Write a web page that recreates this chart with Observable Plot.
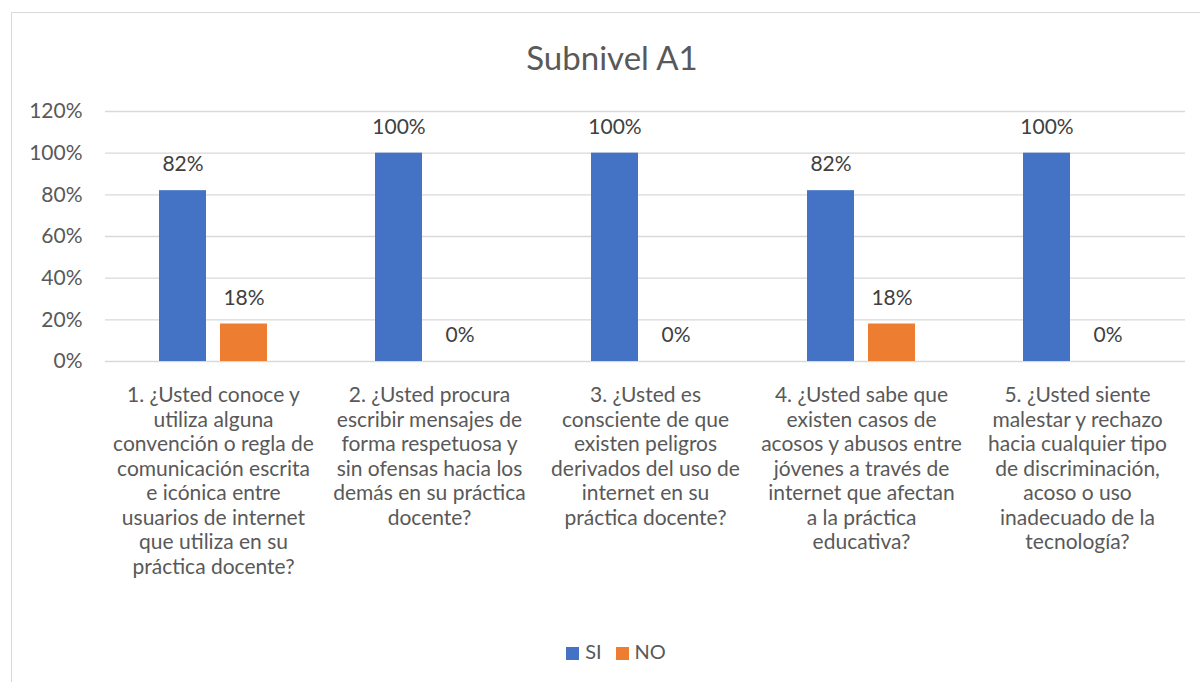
<!DOCTYPE html>
<html>
<head>
<meta charset="utf-8">
<script src="https://cdn.jsdelivr.net/npm/d3@7"></script>
<script src="https://cdn.jsdelivr.net/npm/@observablehq/plot@0.6"></script>
<style>
  html, body { margin: 0; padding: 0; background: #fff; }
  #wrap { position: relative; width: 1200px; height: 682px; overflow: hidden; font-family: Lato, "Open Sans", sans-serif; }
  #frame { position: absolute; left: 11px; top: 12px; width: 1240px; height: 720px; border: 1px solid #d9d9d9; box-sizing: border-box; }
  #title { position: absolute; left: 0; width: 1224px; top: 37px; text-align: center; font-size: 33px; color: #595959; line-height: 40px; }
  #plot { position: absolute; left: 0; top: 0; }
  #legend { position: absolute; top: 640px; left: 0; width: 1232px; text-align: center; font-size: 20px; color: #595959; line-height: 22px; }
  .sw { display: inline-block; width: 13px; height: 13px; margin-right: 6px; vertical-align: -1px; }
  .item { display: inline-block; margin: 0 7px; }
</style>
</head>
<body>
<div id="wrap">
  <div id="frame"></div>
  <div id="title"></div>
  <div id="plot"></div>
  <div id="legend"></div>
</div>
<script>
const title = "Subnivel A1";
const categories = [
  "1. ¿Usted conoce y\nutiliza alguna\nconvención o regla de\ncomunicación escrita\ne icónica entre\nusuarios de internet\nque utiliza en su\npráctica docente?",
  "2. ¿Usted procura\nescribir mensajes de\nforma respetuosa y\nsin ofensas hacia los\ndemás en su práctica\ndocente?",
  "3. ¿Usted es\nconsciente de que\nexisten peligros\nderivados del uso de\ninternet en su\npráctica docente?",
  "4. ¿Usted sabe que\nexisten casos de\nacosos y abusos entre\njóvenes a través de\ninternet que afectan\na la práctica\neducativa?",
  "5. ¿Usted siente\nmalestar y rechazo\nhacia cualquier tipo\nde discriminación,\nacoso o uso\ninadecuado de la\ntecnología?"
];
const series = ["SI", "NO"];
const siValues = [0.82, 1.00, 1.00, 0.82, 1.00];
const noValues = [0.18, 0.00, 0.00, 0.18, 0.00];
const colors = ["#4472c4", "#ed7d31"];
const yTicks = [0, 0.2, 0.4, 0.6, 0.8, 1.0, 1.2];

const data = [];
categories.forEach((c, i) => {
  data.push({q: c, s: "SI", v: siValues[i]});
  data.push({q: c, s: "NO", v: noValues[i]});
});

const pct = d => Math.round(d * 100) + "%";

const chart = Plot.plot({
  width: 1200,
  height: 682,
  marginTop: 111,
  marginBottom: 321,
  marginLeft: 104,
  marginRight: 15,
  style: {fontFamily: "Lato, 'Open Sans', sans-serif", background: "transparent"},
  fx: {domain: categories, padding: 0, label: null, axis: null},
  x: {domain: series, paddingInner: 0.226, paddingOuter: 0.855, axis: null},
  y: {domain: [0, 1.2], label: null},
  color: {domain: series, range: colors},
  marks: [
    Plot.gridY(yTicks, {stroke: "#d9d9d9", strokeOpacity: 1, strokeWidth: 1.3}),
    Plot.barY(data, {fx: "q", x: "s", y: "v", fill: "s"}),
    Plot.text(data, {fx: "q", x: "s", y: "v", text: d => pct(d.v), dy: -26, fontSize: 21, fill: "#404040"}),
    Plot.axisY(yTicks, {tickSize: 0, tickPadding: 23, tickFormat: pct, fontSize: 21, fill: "#595959", label: null}),
    Plot.axisFx({anchor: "bottom", tickSize: 0, tickPadding: 23, fontSize: 21, fill: "#595959", lineHeight: 1.17, label: null, tickFormat: d => d})
  ]
});
document.getElementById("plot").appendChild(chart);
document.getElementById("title").textContent = title;
const lg = document.getElementById("legend");
series.forEach((s, i) => {
  const span = document.createElement("span");
  span.className = "item";
  span.innerHTML = `<span class="sw" style="background:${colors[i]}"></span>${s}`;
  lg.appendChild(span);
});
</script>
</body>
</html>
